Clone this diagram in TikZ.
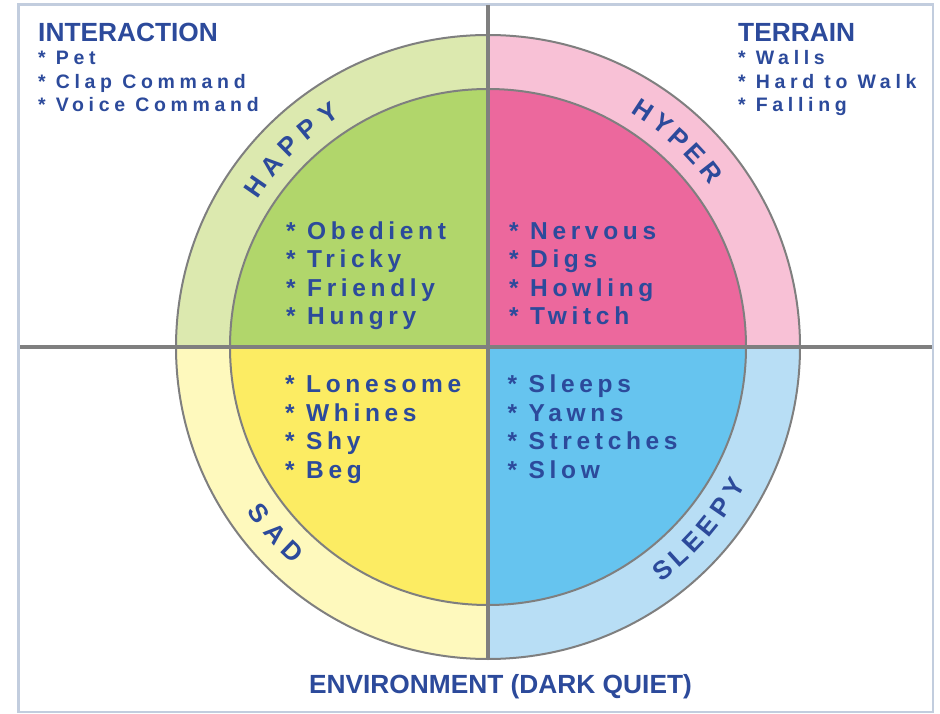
\documentclass[tikz,border=0pt]{standalone}
\usepackage{fontspec}
\setmainfont{Liberation Sans}
\newfontfamily\headfont{Liberation Sans}
\newfontfamily\cornerfont{Liberation Sans}[LetterSpace=24]
\newfontfamily\moodfont{Liberation Sans}[LetterSpace=19]
\usepackage{tikz}
\usepackage{xcolor}
\definecolor{txtblue}{HTML}{2C4A9B}
\definecolor{rimgray}{HTML}{7F7F7F}
\definecolor{framegray}{HTML}{C2CDDE}
\definecolor{ringgreen}{HTML}{DCE9AF}
\definecolor{moodgreen}{HTML}{B1D66B}
\definecolor{ringpink}{HTML}{F8C1D6}
\definecolor{moodpink}{HTML}{EC689D}
\definecolor{ringyellow}{HTML}{FEF9BD}
\definecolor{moodyellow}{HTML}{FCEC63}
\definecolor{ringblue}{HTML}{B8DEF5}
\definecolor{moodblue}{HTML}{66C4EF}

\tikzset{
    headtxt/.style={anchor=base west, inner sep=0, text=txtblue,
        font=\headfont\bfseries\fontsize{26.3}{30}\selectfont},
    cornertxt/.style={anchor=base west, inner sep=0, text=txtblue,
        font=\cornerfont\bfseries\fontsize{19.5}{22}\selectfont},
    moodtxt/.style={anchor=base west, inner sep=0, text=txtblue,
        font=\moodfont\bfseries\fontsize{24.5}{28}\selectfont},
    ringtxt/.style={inner sep=0, text=txtblue,
        font=\headfont\bfseries\fontsize{26}{28}\selectfont},
    rim/.style={draw=rimgray, line width=2pt},
    divider/.style={draw=rimgray, line width=3.5pt}
}

\begin{document}
\begin{tikzpicture}[x=1pt, y=1pt]

    \useasboundingbox (0,0) rectangle (940,713);
    \coordinate (c) at (488,366);

    % === Outer frame ===
    \draw[framegray, line width=2.5pt] (18.5,1) rectangle (933,708.5);

    % === Quadrants: outer ring and inner mood ===
    \foreach \a/\ring/\mood in {0/ringpink/moodpink, 90/ringgreen/moodgreen,
                                180/ringyellow/moodyellow, 270/ringblue/moodblue} {
        \fill[\ring] (c) -- ++(\a:312pt) arc[start angle=\a, delta angle=90, radius=312pt] -- cycle;
        \fill[\mood] (c) -- ++(\a:258pt) arc[start angle=\a, delta angle=90, radius=258pt] -- cycle;
    }
    \draw[rim] (c) circle[radius=312pt];
    \draw[rim] (c) circle[radius=258pt];

    % Axes across the wheel
    \draw[divider] (20,366) -- (932,366);
    \draw[divider] (488,708) -- (488,54);

    % === Ring labels ===
    \foreach \t/\ang [count=\i] in {H/145.4, A/140.0, P/134.9, P/129.6, Y/124.4,
                                    H/56.7, Y/51.9, P/47.5, E/43.0, R/38.0}
        \path (c) ++(\ang:283pt) node[ringtxt, rotate=\ang-90] (top\i) {\t};
    \foreach \t/\ang [count=\i] in {S/216.0, A/221.2, D/226.2,
                                    S/-51.9, L/-47.8, E/-43.5, E/-39.2, P/-34.5, Y/-29.8}
        \path (c) ++(\ang:283pt) node[ringtxt, rotate=\ang+90] (bot\i) {\t};

    % === Corner lists ===
    \node[headtxt] (interaction) at (38,671.3) {INTERACTION};
    \foreach \t [count=\i] in {Pet, Clap Command, Voice Command}
        \node[cornertxt] (int\i) at (38,671.3-23.3*\i) {* \t};

    \node[headtxt] (terrain) at (738,671.3) {TERRAIN};
    \foreach \t [count=\i] in {Walls, Hard to Walk, Falling}
        \node[cornertxt] (ter\i) at (738,671.3-23.3*\i) {* \t};

    % === Mood lists ===
    \foreach \t [count=\i] in {Obedient, Tricky, Friendly, Hungry}
        \node[moodtxt] (happy\i) at (286,502-28.5*\i) {* \t};
    \foreach \t [count=\i] in {Nervous, Digs, Howling, Twitch}
        \node[moodtxt] (hyper\i) at (509,502-28.5*\i) {* \t};
    \foreach \t [count=\i] in {Lonesome, Whines, Shy, Beg}
        \node[moodtxt] (sad\i) at (285,348.5-28.5*\i) {* \t};
    \foreach \t [count=\i] in {Sleeps, Yawns, Stretches, Slow}
        \node[moodtxt] (sleepy\i) at (507.5,348.5-28.5*\i) {* \t};

    % Bottom caption
    \node[headtxt, anchor=base] (environment) at (500.5,19.7) {ENVIRONMENT (DARK QUIET)};

\end{tikzpicture}
\end{document}
